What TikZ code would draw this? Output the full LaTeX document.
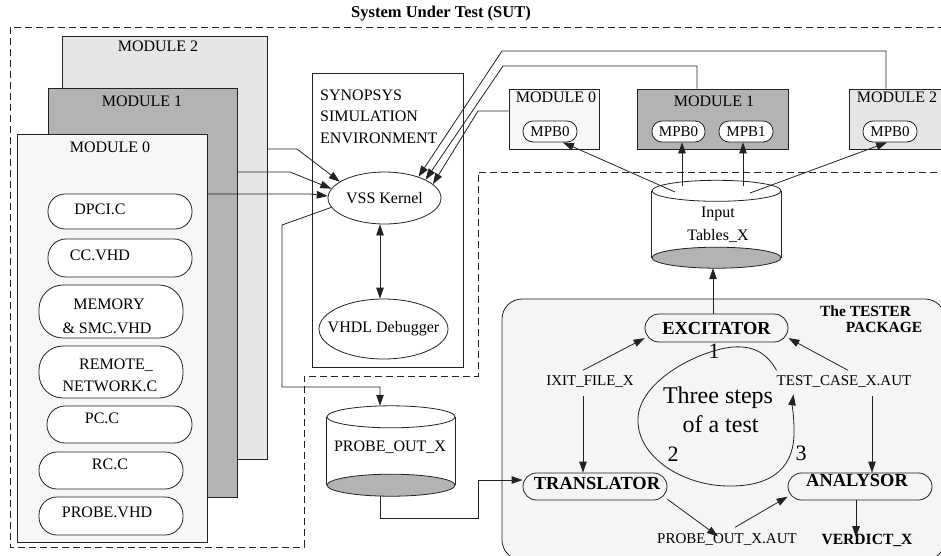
\documentclass[tikz,border=0pt]{standalone}
\usepackage{fontspec}
\setmainfont{Liberation Serif}
\usetikzlibrary{shapes.geometric,arrows.meta,calc}
\newcommand\fsz[1]{\fontsize{#1}{#1}\selectfont}
\definecolor{gA}{HTML}{F7F7F7}
\definecolor{gB}{HTML}{B3B3B3}
\definecolor{gC}{HTML}{E6E6E6}
\definecolor{gT}{HTML}{F5F5F5}
\definecolor{ln}{HTML}{222222}
\tikzset{
  line/.style={draw=ln, line width=0.8pt},
  arr/.style={draw=ln, line width=0.8pt, -{Triangle[length=11pt,width=7.5pt]}},
  darr/.style={draw=ln, line width=0.8pt, {Triangle[length=11pt,width=7.5pt]}-{Triangle[length=11pt,width=7.5pt]}},
  modbox/.style={draw=ln, line width=0.8pt, rectangle, inner sep=0},
  pill/.style={draw=ln, line width=0.8pt, rectangle, rounded corners=#1, inner sep=0, fill=white},
  oval/.style={draw=ln, line width=0.8pt, ellipse, inner sep=0, fill=white},
  tx/.style={inner sep=0, text height=0.66em, text depth=0pt, font=\fsz{#1}},
  tb/.style={inner sep=0, text height=0.66em, text depth=0pt, font=\fsz{#1}\bfseries},
  lbl/.style={inner xsep=0, inner ysep=8pt, text height=0.66em, text depth=0.3em, font=\fsz{15}},
  sut/.style={draw=ln, line width=0.8pt, dash pattern=on 7pt off 4pt},
}
\begin{document}
\begin{tikzpicture}[x=1pt,y=-1pt]
\useasboundingbox (0,0) rectangle (941,555);
% SUT boundary
\node[tb=16.5] (title) at (441,14) {System Under Test (SUT)};
\draw[sut] (945,27) -- (10,27) -- (10,547) -- (304,547) -- (304,376) -- (478,376) -- (478,172) -- (945,172);
% module stack
\node[modbox, fill=gC, minimum width=205pt, minimum height=423pt] (m2) at (164.5,247.5) {};
\node[tx=16] (m2t) at (158,48.5) {MODULE 2};
\node[modbox, fill=gB, minimum width=189pt, minimum height=409pt] (m1) at (142.5,292.5) {};
\node[tx=16] (m1t) at (142,103) {MODULE 1};
\node[modbox, fill=gA, minimum width=190pt, minimum height=408pt] (m0) at (112,338) {};
\node[tx=16] (m0t) at (110,149) {MODULE 0};
\node[pill=17pt, minimum width=144pt, minimum height=35pt] (p1) at (120,211.5) {};
\node[tx=16] (p1t) at (100,211.5) {DPCI.C};
\node[pill=18pt, minimum width=144pt, minimum height=38pt] (p2) at (120,258) {};
\node[tx=16] (p2t) at (100,257) {CC.VHD};
\node[pill=24pt, minimum width=144pt, minimum height=53pt] (p3) at (111,311.5) {};
\node[tx=16] (p3a) at (109,306) {MEMORY};
\node[tx=16] (p3b) at (107,330) {\& SMC.VHD};
\node[pill=24pt, minimum width=144pt, minimum height=52pt] (p4) at (111,372) {};
\node[tx=16] (p4a) at (116,366) {REMOTE\_};
\node[tx=16] (p4b) at (110,388) {NETWORK.C};
\node[pill=18pt, minimum width=145pt, minimum height=37pt] (p5) at (119.5,424.5) {};
\node[tx=16] (p5t) at (102,420) {PC.C};
\node[pill=18pt, minimum width=144pt, minimum height=37pt] (p6) at (111,470.5) {};
\node[tx=16] (p6t) at (110,466) {RC.C};
\node[pill=18pt, minimum width=144pt, minimum height=38pt] (p7) at (111,516) {};
\node[tx=16] (p7t) at (107,514.5) {PROBE.VHD};
% simulation environment
\node[modbox, fill=white, minimum width=151pt, minimum height=294pt] (syn) at (387.5,220) {};
\node[tx=16, anchor=west] (syn1) at (320,97) {SYNOPSYS};
\node[tx=16, anchor=west] (syn2) at (320,118) {SIMULATION};
\node[tx=16, anchor=west] (syn3) at (320,140) {ENVIRONMENT};
\node[oval, minimum width=113pt, minimum height=52pt, font=\fsz{16}] (vss) at (384.5,198) {VSS Kernel};
\node[oval, minimum width=129pt, minimum height=60pt] (vhdl) at (383.5,329) {};
\node[font=\fsz{16}, inner sep=0] (vhdlt) at (383.5,329) {VHDL Debugger};
% right modules
\node[modbox, fill=gA, minimum width=90pt, minimum height=60pt] (rm0) at (554,119) {};
\node[tx=16] (rm0t) at (556,99.5) {MODULE 0};
\node[pill=10pt, minimum width=54pt, minimum height=21pt, font=\fsz{15}] (q00) at (550,131.5) {MPB0};
\node[modbox, fill=gB, minimum width=151pt, minimum height=60pt] (rm1) at (712.5,119) {};
\node[tx=16] (rm1t) at (714,103) {MODULE 1};
\node[pill=10pt, minimum width=53pt, minimum height=21pt, font=\fsz{15}] (q10) at (678.5,131.5) {MPB0};
\node[pill=10pt, minimum width=54pt, minimum height=21pt, font=\fsz{15}] (q11) at (746,131.5) {MPB1};
\node[modbox, fill=gC, minimum width=96pt, minimum height=60pt] (rm2) at (897,119) {};
\node[tx=16] (rm2t) at (897,99.5) {MODULE 2};
\node[pill=10pt, minimum width=54pt, minimum height=21pt, font=\fsz{15}] (q20) at (890,131.5) {MPB0};
% input tables cylinder
\node[inner sep=0, minimum width=129pt, minimum height=87.5pt] (inp) at (716.5,224.25) {};
\draw[line] ($(inp.north west)+(0,10.5)$) -- ($(inp.south west)+(0,-10.5)$);
\draw[line] ($(inp.north east)+(0,10.5)$) -- ($(inp.south east)+(0,-10.5)$);
\draw[line, fill=white] ($(inp.north)+(0,10.5)$) ellipse [x radius=64.5pt, y radius=10.5pt];
\draw[line, fill=gB] ($(inp.south)+(0,-10.5)$) ellipse [x radius=64.5pt, y radius=10.5pt];
\node[tx=16] (inpa) at (718,214.5) {Input};
\node[tx=16] (inpb) at (718,237) {Tables\_X};
% probe out cylinder
\node[inner sep=0, minimum width=128pt, minimum height=90pt] (po) at (391,451) {};
\draw[line] ($(po.north west)+(0,11)$) -- ($(po.south west)+(0,-11)$);
\draw[line] ($(po.north east)+(0,11)$) -- ($(po.south east)+(0,-11)$);
\draw[line, fill=white] ($(po.north)+(0,11)$) ellipse [x radius=64pt, y radius=11pt];
\draw[line, fill=gB] ($(po.south)+(0,-11)$) ellipse [x radius=64pt, y radius=11pt];
\node[tx=16] (pot) at (390,448.5) {PROBE\_OUT\_X};
% tester package
\node[draw=ln, line width=0.8pt, fill=gT, rectangle, rounded corners=20pt, minimum width=443pt, minimum height=261pt, inner sep=0] (tester) at (723.5,429.5) {};
\node[tb=15.5] (tp1) at (865.5,313.5) {The TESTER};
\node[tb=15.5] (tp2) at (884,329) {PACKAGE};
\node[pill=14pt, fill=gT, minimum width=143pt, minimum height=28pt, font=\fsz{18.4}\bfseries] (exc) at (716.5,328) {EXCITATOR};
\node[pill=13.5pt, fill=gT, minimum width=144pt, minimum height=27pt] (tr) at (595,486.5) {};
\node[tb=18.4] (trt) at (597,486) {TRANSLATOR};
\node[pill=13.5pt, fill=gT, minimum width=144pt, minimum height=27pt] (an) at (860,486.5) {};
\node[tb=18.4] (ant) at (857,483.5) {ANALYSOR};
\node[lbl] (ixit) at (590,383.3) {IXIT\_FILE\_X};
\node[lbl] (tc) at (844,383.3) {TEST\_CASE\_X.AUT};
\node[lbl, inner ysep=0pt] (poa) at (727,541.3) {PROBE\_OUT\_X.AUT};
\node[lbl, inner ysep=0pt, font=\fsz{15.6}\bfseries] (ver) at (867,542.2) {VERDICT\_X};
\node[tx=24] (ts1) at (718,400) {Three steps};
\node[tx=24] (ts2) at (720.5,429) {of a test};
\node[tx=22] (n1) at (714,355) {1};
\node[tx=22] (n2) at (673,458.5) {2};
\node[tx=22] (n3) at (801,457.5) {3};
% connectors into VSS kernel
\draw[arr] (m2.east |- 0,149) -- (297,149) -- (vss.160);
\draw[arr] (m1.east |- 0,172) -- (290,172) -- (vss.170);
\draw[arr] (m0.east |- 0,194) -- (310,194) -- (vss.178);
\draw[arr] (rm2.north -| 886,0) -- (886,51) -- (502,51) -- (vss.32);
\draw[arr] (rm1.north -| 697,0) -- (697,66) -- (503,66) -- (vss.24);
\draw[arr] (rm0.west |- 0,111) -- (478,111) -- (vss.16);
\draw[darr] (vss.south -| 380,0) -- (vhdl.north -| 380,0);
\draw[arr] (vss.190) -- (282,225) -- (282,387) -- (380,387) -- (po.north -| 380,0);
\draw[arr] (po.south -| 380,0) -- (380,518) -- (478,518) -- (478,480) -- (tr.west |- 0,480);
% input tables to MPBs
\coordinate (i1) at (675,192);
\coordinate (i2) at (682,186);
\coordinate (i3) at (743,186);
\coordinate (i4) at (750,193);
\draw[arr] (i1) -- (q00.-40);
\draw[arr] (i2) -- (q10.south -| 682,0);
\draw[arr] (i3) -- (q11.south -| 743,0);
\draw[arr] (i4) -- (q20.-105);
% tester connectors
\draw[arr] (exc.north -| 713,0) -- (inp.south -| 713,0);
\draw[arr] ($(ixit.north)+(-7,0)$) -- (exc.-172);
\draw[arr] ($(tc.north)+(4,0)$) -- (exc.-8);
\draw[arr] ($(ixit.south)+(-7,0)$) -- (tr.north -| 583,0);
\draw[arr] ($(tc.south)+(28,0)$) -- (an.north -| 872,0);
\draw[arr] (tr.-10) -- (poa.north -| 718,0);
\draw[arr] ($(poa.north)+(8,-9)$) -- (an.-172);
\draw[arr] (an.south -| 856,0) -- (ver.north -| 856,0);
\draw[arr] (tc.north west) .. controls (765,350) and (750,346) .. (733,347)
  .. controls (700,350) and (640,380) .. (638,418)
  .. controls (636,455) and (680,485) .. (727,486)
  .. controls (775,487) and (795,465) .. (794,430)
  .. controls (794,415) and (792,405) .. ($(tc.south west)+(17,-2)$);
\end{tikzpicture}
\end{document}
